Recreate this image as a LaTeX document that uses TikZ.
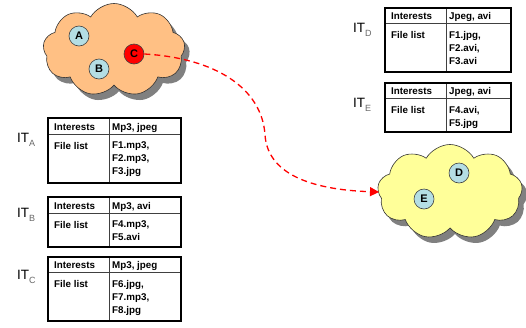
\documentclass[tikz,border=0pt]{standalone}
\usepackage{fontspec}
\setmainfont{Liberation Sans}
\usetikzlibrary{shapes.symbols,shadows,arrows.meta}
\definecolor{cloudorange}{RGB}{255,192,132}
\definecolor{cloudyellow}{RGB}{255,255,153}
\definecolor{peerblue}{RGB}{180,222,228}
\definecolor{shadowgray}{RGB}{128,128,128}
\tikzset{
  cloudbox/.style={cloud, cloud puffs=9, cloud puff arc=120, draw=black!80, line width=0.6pt,
    drop shadow={shadow xshift=5pt, shadow yshift=-6pt, fill=shadowgray, opacity=1}},
  peer/.style={circle, draw=black!75, line width=0.6pt, fill=peerblue, minimum size=20pt, inner sep=0pt,
    font=\fontsize{11}{11}\selectfont\bfseries},
  outerline/.style={line width=1.8pt, black},
  innerline/.style={line width=0.7pt, black!75},
  cell/.style={inner sep=0pt, anchor=base west, align=left, font=\fontsize{9.8}{13}\selectfont\bfseries},
  itlab/.style={inner sep=0pt, anchor=base west, font=\fontsize{13.5}{16}\selectfont},
  msg/.style={red, line width=1.3pt, dash pattern=on 6pt off 4pt, -{Triangle[length=9pt,width=9pt]}}
}
\newcommand\itsub[1]{\raisebox{-4pt}{\fontsize{9}{9}\selectfont\color{black!60}#1}}
\newcommand\ittable[8]{%
  \draw[innerline] (#2,#6) -- (#4,#6);
  \draw[innerline] (#2+61,#3) -- (#2+61,#5);
  \draw[outerline] (#2,#3) rectangle (#4,#5);
  \node[cell] (#1int) at (#2+6,{(#3+#6)/2+4}) {Interests};
  \node[cell] (#1val) at (#2+64,{(#3+#6)/2+4}) {#7};
  \node[cell] (#1fl) at (#2+6,#6+15) {File list};
  \node[cell, anchor=north west] (#1files) at (#2+64,#6+7.9) {#8};
}
\begin{document}
\begin{tikzpicture}[x=1pt,y=-1pt]
\useasboundingbox (0,0) rectangle (526,327);
% clouds
\node[cloudbox, fill=cloudorange, minimum width=142pt, minimum height=93pt] (O) at (114,50) {};
\node[cloudbox, fill=cloudyellow, minimum width=145pt, minimum height=95pt] (Y) at (450,192) {};
% peers
\node[peer] (A) at (79,36) {A};
\node[peer] (B) at (99,69) {B};
\node[peer, fill=red] (C) at (134,54) {C};
\node[peer] (D) at (459,173) {D};
\node[peer] (E) at (424,199) {E};
% message
\coordinate (tip) at (379,192);
\draw[msg] (C.east) .. controls (215,58) and (262,88) .. (265,135)
  .. controls (268,178) and (320,190) .. (tip);
% tables
\ittable{ta}{48}{118}{181}{183}{134}{Mp3, jpeg}{F1.mp3,\\F2.mp3,\\F3.jpg}
\ittable{tb}{48}{197}{181}{247}{213}{Mp3, avi}{F4.mp3,\\F5.avi}
\ittable{tc}{48}{257}{181}{321}{272}{Mp3, jpeg}{F6.jpg,\\F7.mp3,\\F8.jpg}
\ittable{td}{385}{8}{511}{72}{23}{Jpeg, avi}{F1.jpg,\\F2.avi,\\F3.avi}
\ittable{te}{385}{83}{511}{132}{98}{Jpeg, avi}{F4.avi,\\F5.jpg}
% labels
\node[itlab] (la) at (17,142) {IT\itsub{A}};
\node[itlab] (lb) at (17,217) {IT\itsub{B}};
\node[itlab] (lc) at (17,279) {IT\itsub{C}};
\node[itlab] (ld) at (353,32) {IT\itsub{D}};
\node[itlab] (le) at (353,107) {IT\itsub{E}};
\end{tikzpicture}
\end{document}
